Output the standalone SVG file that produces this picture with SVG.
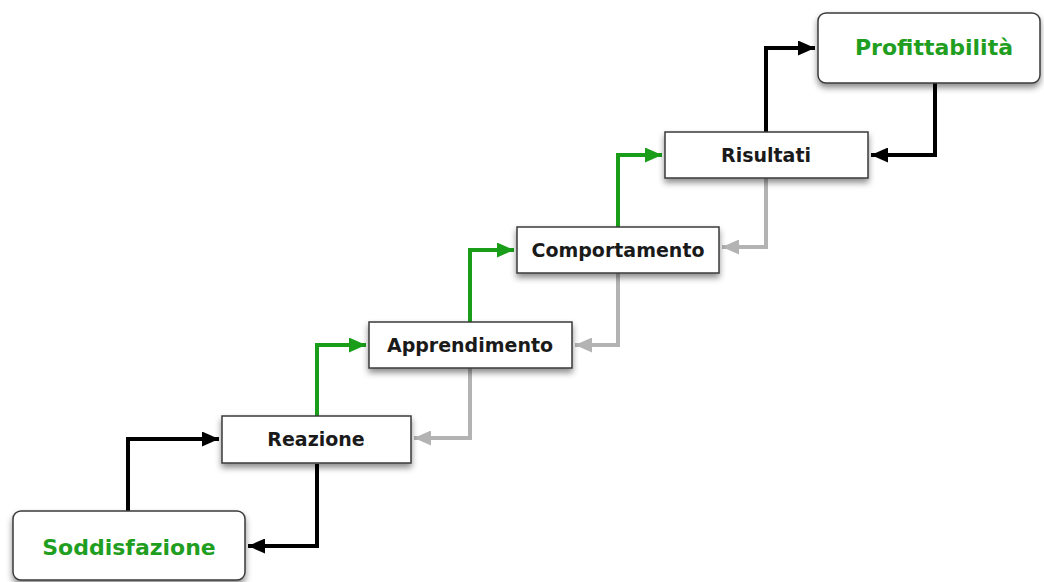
<svg xmlns="http://www.w3.org/2000/svg" width="1044" height="582" viewBox="0 0 1044 582">
<defs>
<style>
.box{fill:#fff;stroke:#3a3a3a;stroke-width:1.5;filter:url(#sh)}
.lbl{font-family:"DejaVu Sans",sans-serif;font-weight:bold;font-size:19px;fill:#1a1a1a;text-anchor:middle}
.big{font-family:"DejaVu Sans",sans-serif;font-weight:bold;font-size:22px;fill:#1f9e1f;text-anchor:middle}
.c{fill:none;stroke-width:4;stroke-linejoin:miter}
.k{stroke:#000;marker-end:url(#ak)}
.g{stroke:#1a9e1a;marker-end:url(#ag)}
.y{stroke:#b3b3b3;marker-end:url(#ay)}
</style>
<filter id="sh" x="-10%" y="-20%" width="120%" height="160%">
<feDropShadow dx="0" dy="4" stdDeviation="3" flood-color="#000" flood-opacity="0.45"/>
</filter>
<marker id="ak" markerUnits="userSpaceOnUse" markerWidth="18" markerHeight="15" refX="17" refY="7.5" orient="auto"><path d="M0,0 L17,7.5 L0,15 Z" fill="#000"/></marker>
<marker id="ag" markerUnits="userSpaceOnUse" markerWidth="18" markerHeight="15" refX="17" refY="7.5" orient="auto"><path d="M0,0 L17,7.5 L0,15 Z" fill="#1a9e1a"/></marker>
<marker id="ay" markerUnits="userSpaceOnUse" markerWidth="18" markerHeight="15" refX="17" refY="7.5" orient="auto"><path d="M0,0 L17,7.5 L0,15 Z" fill="#b3b3b3"/></marker>
</defs>
<g id="connectors">
<path class="c k" d="M128,511 V439 H219"/>
<path class="c k" d="M317,464 V546 H248"/>
<path class="c g" d="M317,416 V345 H366"/>
<path class="c y" d="M470,368 V438 H414"/>
<path class="c g" d="M470,322 V250 H514"/>
<path class="c y" d="M618,273 V345 H575"/>
<path class="c g" d="M618,227 V155 H662"/>
<path class="c y" d="M766,178 V247 H722"/>
<path class="c k" d="M766,132 V48 H815"/>
<path class="c k" d="M935,83 V155 H871"/>
</g>
<g id="soddisfazione"><rect class="box" x="13" y="511" width="232" height="69" rx="8"/><text class="big" x="129" y="555">Soddisfazione</text></g>
<g id="reazione"><rect class="box" x="222" y="416" width="189" height="47"/><text class="lbl" x="316" y="446">Reazione</text></g>
<g id="apprendimento"><rect class="box" x="369" y="322" width="203" height="46"/><text class="lbl" x="470" y="352">Apprendimento</text></g>
<g id="comportamento"><rect class="box" x="517" y="227" width="202" height="46"/><text class="lbl" x="618" y="257">Comportamento</text></g>
<g id="risultati"><rect class="box" x="665" y="132" width="203" height="46"/><text class="lbl" x="766" y="162">Risultati</text></g>
<g id="profittabilita"><rect class="box" x="818" y="13" width="222" height="70" rx="8"/><text class="big" x="934" y="55">Profittabilità</text></g>
</svg>
